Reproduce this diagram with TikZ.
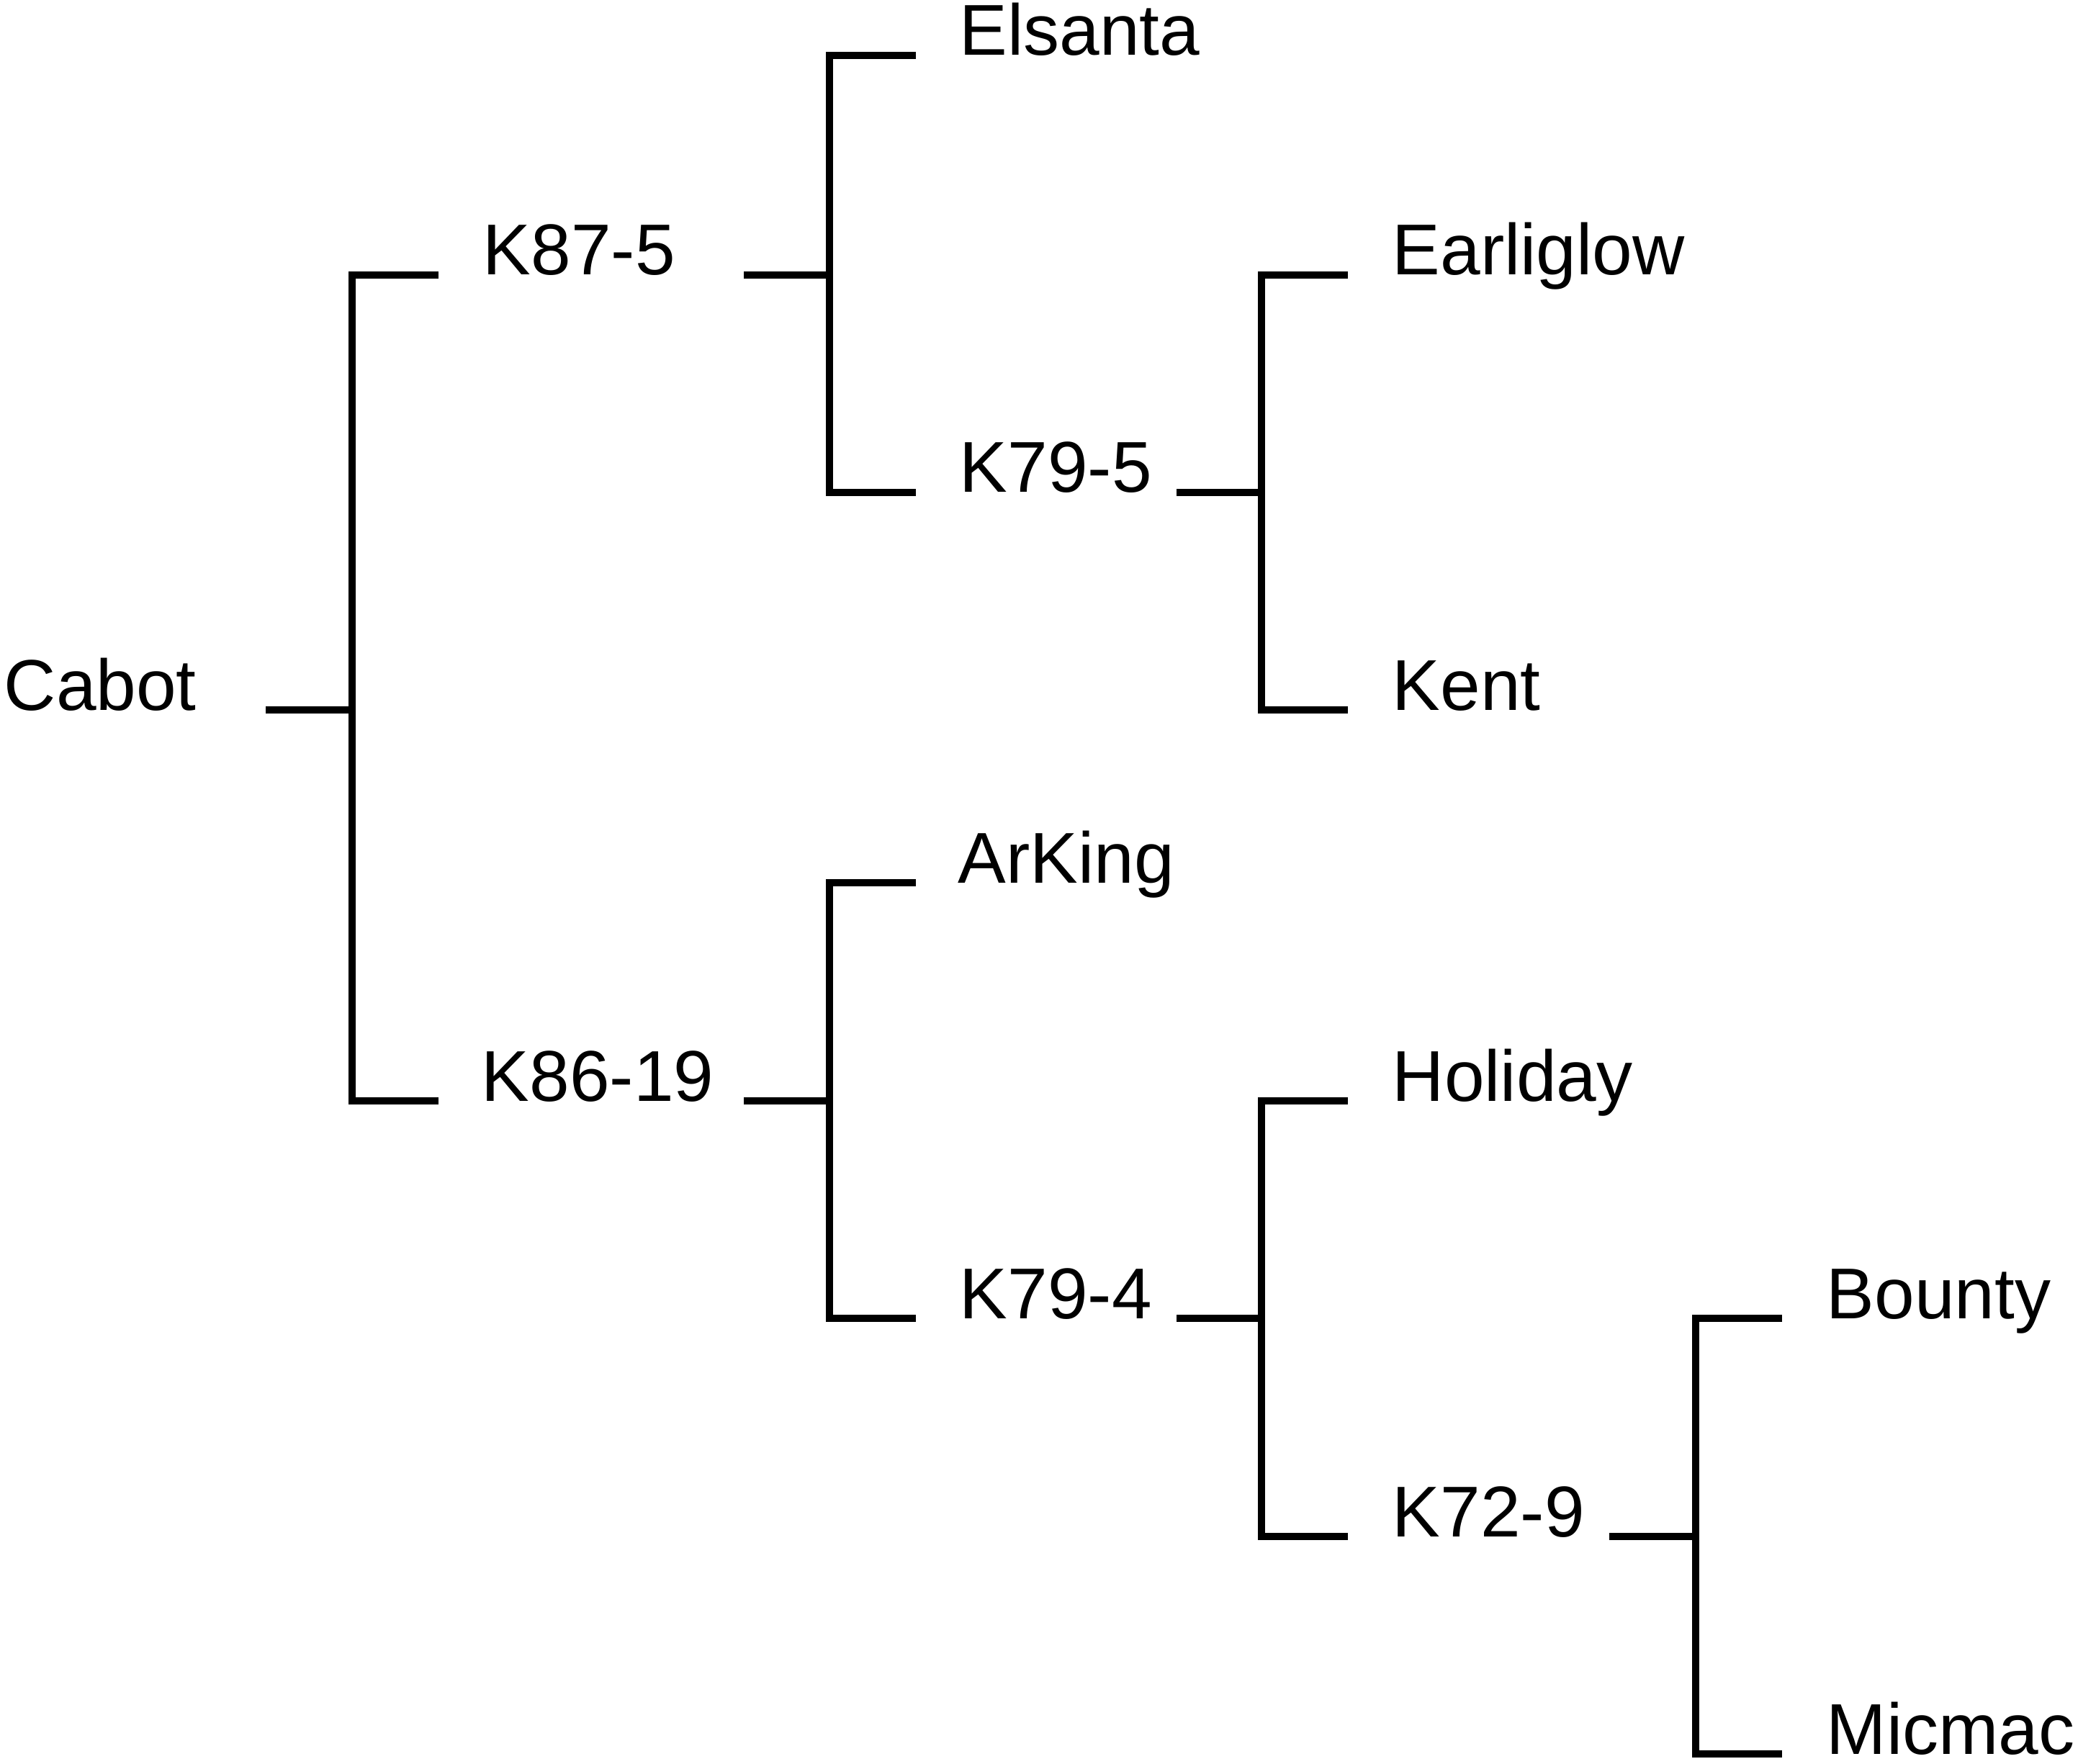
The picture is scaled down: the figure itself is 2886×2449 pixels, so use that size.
\documentclass[tikz,border=0pt]{standalone}
\usepackage{fontspec}
\setmainfont{Liberation Sans}
\begin{document}
\begin{tikzpicture}[x=0.25pt,y=-0.25pt,
  lbl/.style={anchor=base west,inner sep=0pt,font=\fontsize{25}{30}\selectfont},
  tree/.style={line width=2.6pt,line cap=butt,line join=miter}]
\useasboundingbox (0,0) rectangle (2886,2449);
% labels
\node[lbl] (cabot) at (5,986) {Cabot};
\node[lbl] (k875) at (670,382) {K87-5};
\node[lbl] (k8619) at (668,1529) {K86-19};
\node[lbl] (elsanta) at (1332,77) {Elsanta};
\node[lbl] (k795) at (1332,684) {K79-5};
\node[lbl] (arking) at (1330,1226) {ArKing};
\node[lbl] (k794) at (1332,1831) {K79-4};
\node[lbl] (earliglow) at (1933,382) {Earliglow};
\node[lbl] (kent) at (1933,986) {Kent};
\node[lbl] (holiday) at (1933,1529) {Holiday};
\node[lbl] (k729) at (1933,2134) {K72-9};
\node[lbl] (bounty) at (2536,1831) {Bounty};
\node[lbl] (micmac) at (2536,2436) {Micmac};
% connector points
\coordinate (cabot-out) at (369,986);
\coordinate (cabot-j) at (489,986);
\coordinate (k875-in) at (609,382);
\coordinate (k8619-in) at (609,1529);
\coordinate (k875-out) at (1033,382);
\coordinate (k875-j) at (1152,382);
\coordinate (k8619-out) at (1033,1529);
\coordinate (k8619-j) at (1152,1529);
\coordinate (elsanta-in) at (1272,77);
\coordinate (k795-in) at (1272,684);
\coordinate (arking-in) at (1272,1226);
\coordinate (k794-in) at (1272,1831);
\coordinate (k795-out) at (1634,684);
\coordinate (k795-j) at (1752,684);
\coordinate (k794-out) at (1634,1831);
\coordinate (k794-j) at (1752,1831);
\coordinate (earliglow-in) at (1872,382);
\coordinate (kent-in) at (1872,986);
\coordinate (holiday-in) at (1872,1529);
\coordinate (k729-in) at (1872,2134);
\coordinate (k729-out) at (2235,2134);
\coordinate (k729-j) at (2355,2134);
\coordinate (bounty-in) at (2475,1831);
\coordinate (micmac-in) at (2475,2436);
% tree
\draw[tree] (cabot-out) -- (cabot-j);
\draw[tree] (k875-in) -| (cabot-j) |- (k8619-in);
\draw[tree] (k875-out) -- (k875-j);
\draw[tree] (elsanta-in) -| (k875-j) |- (k795-in);
\draw[tree] (k8619-out) -- (k8619-j);
\draw[tree] (arking-in) -| (k8619-j) |- (k794-in);
\draw[tree] (k795-out) -- (k795-j);
\draw[tree] (earliglow-in) -| (k795-j) |- (kent-in);
\draw[tree] (k794-out) -- (k794-j);
\draw[tree] (holiday-in) -| (k794-j) |- (k729-in);
\draw[tree] (k729-out) -- (k729-j);
\draw[tree] (bounty-in) -| (k729-j) |- (micmac-in);
\end{tikzpicture}
\end{document}
